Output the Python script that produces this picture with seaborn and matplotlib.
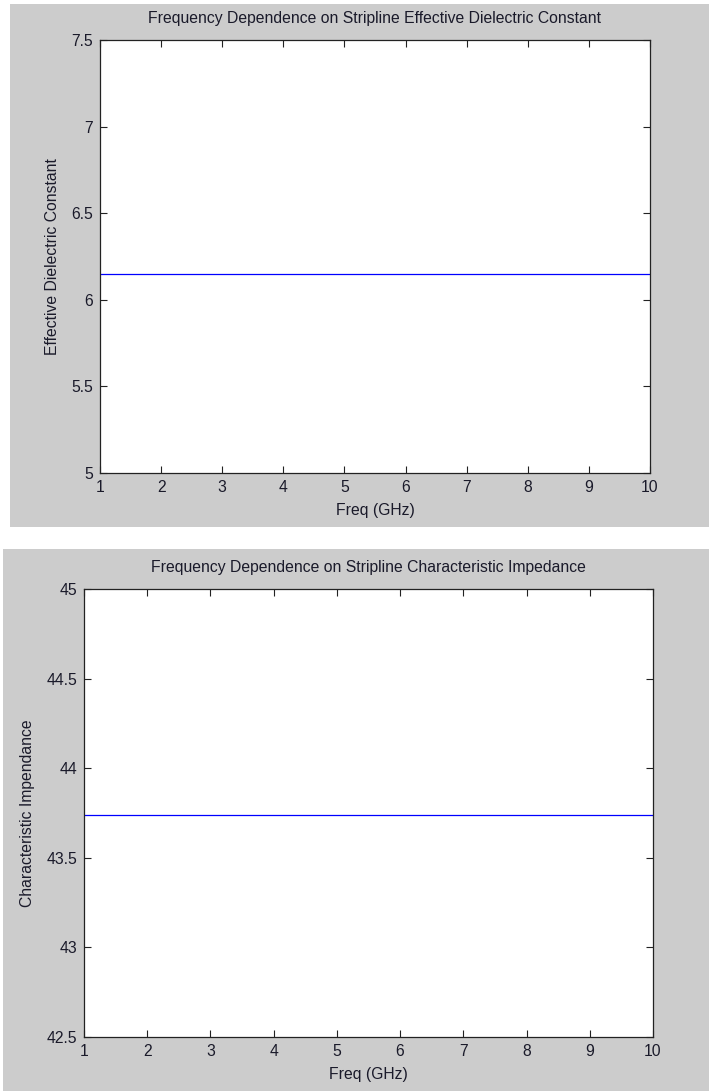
import matplotlib
matplotlib.use("Agg")
import matplotlib.pyplot as plt
import seaborn as sns
import pandas as pd
from matplotlib.patches import Rectangle

freq_ghz = [1, 2, 3, 4, 5, 6, 7, 8, 9, 10]
eps_eff = [6.15, 6.15, 6.15, 6.15, 6.15, 6.15, 6.15, 6.15, 6.15, 6.15]
z0 = [43.74, 43.74, 43.74, 43.74, 43.74, 43.74, 43.74, 43.74, 43.74, 43.74]
x_ticks = [1, 2, 3, 4, 5, 6, 7, 8, 9, 10]
y1_ticks = [5, 5.5, 6, 6.5, 7, 7.5]
y1_labels = ["5", "5.5", "6", "6.5", "7", "7.5"]
y2_ticks = [42.5, 43, 43.5, 44, 44.5, 45]
y2_labels = ["42.5", "43", "43.5", "44", "44.5", "45"]

sns.set_theme(style="white")
plt.rcParams['font.family'] = ['Liberation Sans', 'DejaVu Sans']

W, H = 709, 1091
fig = plt.figure(figsize=(W / 100, H / 100), dpi=100)
fig.patch.set_facecolor("white")

def fx(px):
    return px / W

def fy(py):
    return 1 - py / H

# gray panels
fig.add_artist(Rectangle((fx(10), fy(527)), fx(709) - fx(10), fy(4) - fy(527),
                         transform=fig.transFigure, facecolor="#cccccc", edgecolor="none", zorder=0))
fig.add_artist(Rectangle((fx(3), fy(1091)), fx(709) - fx(3), fy(549) - fy(1091),
                         transform=fig.transFigure, facecolor="#cccccc", edgecolor="none", zorder=0))

fs = 11.3
tc = "#1a1a2a"

def make_ax(l, t, r, b, df, ycol, yticks, ylabels, ylim, title, ylabel):
    ax = fig.add_axes([fx(l), fy(b), fx(r) - fx(l), fy(t) - fy(b)])
    ax.set_facecolor("white")
    sns.lineplot(data=df, x="freq", y=ycol, ax=ax, color="#0000ff", linewidth=0.9)
    ax.set_xlim(1, 10)
    ax.set_ylim(*ylim)
    ax.set_xticks(x_ticks)
    ax.set_xticklabels([str(v) for v in x_ticks])
    ax.set_yticks(yticks)
    ax.set_yticklabels(ylabels)
    ax.tick_params(direction="in", length=5, width=0.8, colors="#222222",
                   labelsize=fs, top=True, right=True, bottom=True, left=True,
                   labelcolor=tc)
    ax.tick_params(axis="x", pad=5)
    ax.tick_params(axis="y", pad=5)
    for s in ax.spines.values():
        s.set_color("#222222")
        s.set_linewidth(0.9)
        s.set_visible(True)
    ax.set_title(title, fontsize=fs, color=tc, pad=12)
    ax.set_xlabel("Freq (GHz)", fontsize=fs, color=tc, labelpad=6)
    ax.set_ylabel(ylabel, fontsize=fs, color=tc, labelpad=8)
    ax.grid(False)
    return ax

df1 = pd.DataFrame({"freq": freq_ghz, "eps": eps_eff})
df2 = pd.DataFrame({"freq": freq_ghz, "z0": z0})

make_ax(100, 40, 650, 473, df1, "eps", y1_ticks, y1_labels, (5, 7.5),
        "Frequency Dependence on Stripline Effective Dielectric Constant",
        "Effective Dielectric Constant")
make_ax(84, 589, 653, 1037, df2, "z0", y2_ticks, y2_labels, (42.5, 45),
        "Frequency Dependence on Stripline Characteristic Impedance",
        "Characteristic Impendance")

fig.savefig("out.png", dpi=100, facecolor=fig.get_facecolor())
